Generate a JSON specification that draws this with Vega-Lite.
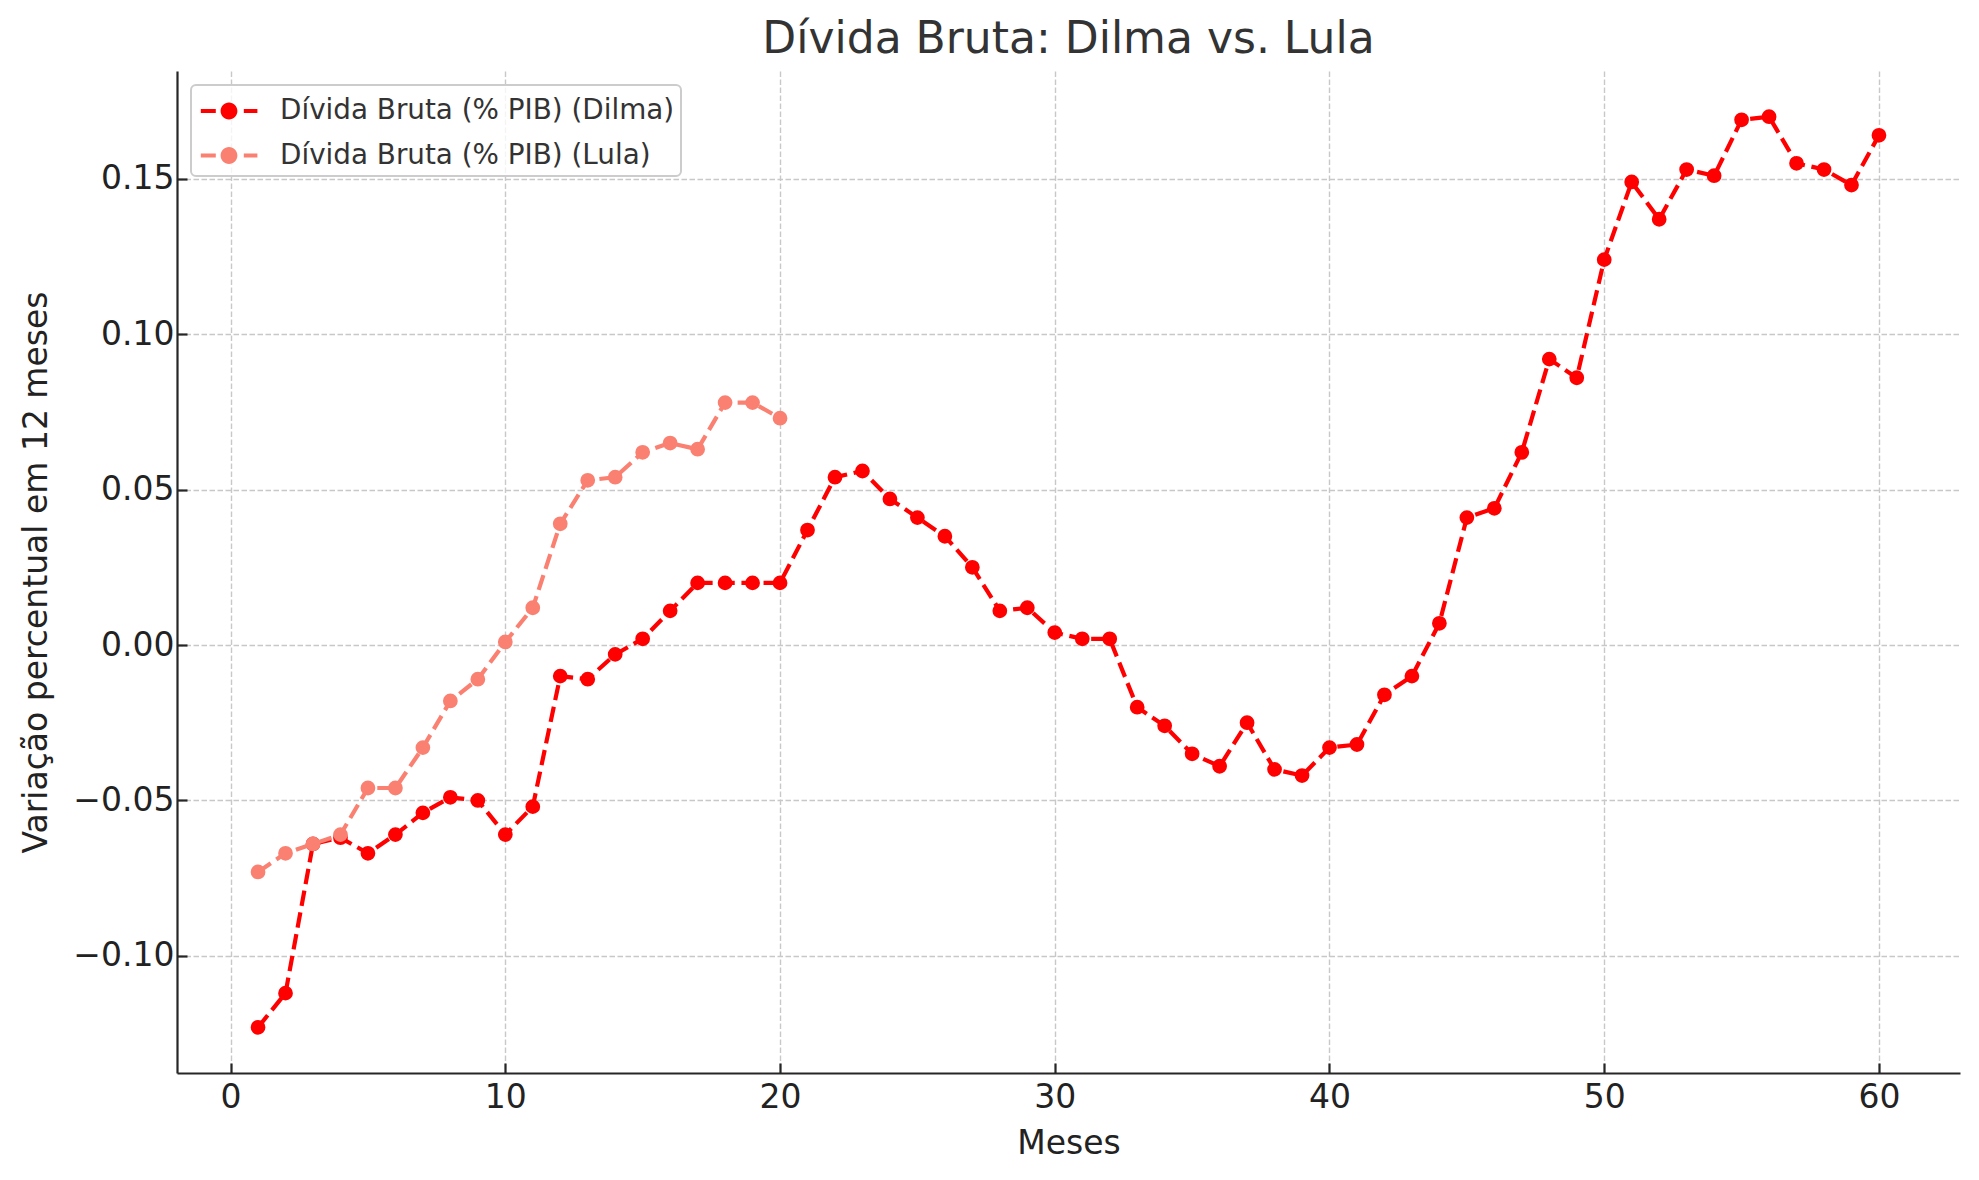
{
  "$schema": "https://vega.github.io/schema/vega-lite/v6.json",
  "width": 1783,
  "height": 1002,
  "autosize": {"type": "none"},
  "padding": {"left": 177, "top": 71, "right": 19, "bottom": 107},
  "background": "white",
  "title": {"text": "Dívida Bruta: Dilma vs. Lula", "fontSize": 44, "font": "DejaVu Sans", "fontWeight": "normal", "color": "#333333", "anchor": "middle", "baseline": "alphabetic", "offset": -26},
  "config": {"view": {"stroke": null}, "font": "DejaVu Sans"},
  "data": {"values": [
    {"mes": 1, "serie": "Dívida Bruta (% PIB) (Dilma)", "v": -0.123},
    {"mes": 2, "serie": "Dívida Bruta (% PIB) (Dilma)", "v": -0.112},
    {"mes": 3, "serie": "Dívida Bruta (% PIB) (Dilma)", "v": -0.064},
    {"mes": 4, "serie": "Dívida Bruta (% PIB) (Dilma)", "v": -0.062},
    {"mes": 5, "serie": "Dívida Bruta (% PIB) (Dilma)", "v": -0.067},
    {"mes": 6, "serie": "Dívida Bruta (% PIB) (Dilma)", "v": -0.061},
    {"mes": 7, "serie": "Dívida Bruta (% PIB) (Dilma)", "v": -0.054},
    {"mes": 8, "serie": "Dívida Bruta (% PIB) (Dilma)", "v": -0.049},
    {"mes": 9, "serie": "Dívida Bruta (% PIB) (Dilma)", "v": -0.050},
    {"mes": 10, "serie": "Dívida Bruta (% PIB) (Dilma)", "v": -0.061},
    {"mes": 11, "serie": "Dívida Bruta (% PIB) (Dilma)", "v": -0.052},
    {"mes": 12, "serie": "Dívida Bruta (% PIB) (Dilma)", "v": -0.010},
    {"mes": 13, "serie": "Dívida Bruta (% PIB) (Dilma)", "v": -0.011},
    {"mes": 14, "serie": "Dívida Bruta (% PIB) (Dilma)", "v": -0.003},
    {"mes": 15, "serie": "Dívida Bruta (% PIB) (Dilma)", "v": 0.002},
    {"mes": 16, "serie": "Dívida Bruta (% PIB) (Dilma)", "v": 0.011},
    {"mes": 17, "serie": "Dívida Bruta (% PIB) (Dilma)", "v": 0.020},
    {"mes": 18, "serie": "Dívida Bruta (% PIB) (Dilma)", "v": 0.020},
    {"mes": 19, "serie": "Dívida Bruta (% PIB) (Dilma)", "v": 0.020},
    {"mes": 20, "serie": "Dívida Bruta (% PIB) (Dilma)", "v": 0.020},
    {"mes": 21, "serie": "Dívida Bruta (% PIB) (Dilma)", "v": 0.037},
    {"mes": 22, "serie": "Dívida Bruta (% PIB) (Dilma)", "v": 0.054},
    {"mes": 23, "serie": "Dívida Bruta (% PIB) (Dilma)", "v": 0.056},
    {"mes": 24, "serie": "Dívida Bruta (% PIB) (Dilma)", "v": 0.047},
    {"mes": 25, "serie": "Dívida Bruta (% PIB) (Dilma)", "v": 0.041},
    {"mes": 26, "serie": "Dívida Bruta (% PIB) (Dilma)", "v": 0.035},
    {"mes": 27, "serie": "Dívida Bruta (% PIB) (Dilma)", "v": 0.025},
    {"mes": 28, "serie": "Dívida Bruta (% PIB) (Dilma)", "v": 0.011},
    {"mes": 29, "serie": "Dívida Bruta (% PIB) (Dilma)", "v": 0.012},
    {"mes": 30, "serie": "Dívida Bruta (% PIB) (Dilma)", "v": 0.004},
    {"mes": 31, "serie": "Dívida Bruta (% PIB) (Dilma)", "v": 0.002},
    {"mes": 32, "serie": "Dívida Bruta (% PIB) (Dilma)", "v": 0.002},
    {"mes": 33, "serie": "Dívida Bruta (% PIB) (Dilma)", "v": -0.020},
    {"mes": 34, "serie": "Dívida Bruta (% PIB) (Dilma)", "v": -0.026},
    {"mes": 35, "serie": "Dívida Bruta (% PIB) (Dilma)", "v": -0.035},
    {"mes": 36, "serie": "Dívida Bruta (% PIB) (Dilma)", "v": -0.039},
    {"mes": 37, "serie": "Dívida Bruta (% PIB) (Dilma)", "v": -0.025},
    {"mes": 38, "serie": "Dívida Bruta (% PIB) (Dilma)", "v": -0.040},
    {"mes": 39, "serie": "Dívida Bruta (% PIB) (Dilma)", "v": -0.042},
    {"mes": 40, "serie": "Dívida Bruta (% PIB) (Dilma)", "v": -0.033},
    {"mes": 41, "serie": "Dívida Bruta (% PIB) (Dilma)", "v": -0.032},
    {"mes": 42, "serie": "Dívida Bruta (% PIB) (Dilma)", "v": -0.016},
    {"mes": 43, "serie": "Dívida Bruta (% PIB) (Dilma)", "v": -0.010},
    {"mes": 44, "serie": "Dívida Bruta (% PIB) (Dilma)", "v": 0.007},
    {"mes": 45, "serie": "Dívida Bruta (% PIB) (Dilma)", "v": 0.041},
    {"mes": 46, "serie": "Dívida Bruta (% PIB) (Dilma)", "v": 0.044},
    {"mes": 47, "serie": "Dívida Bruta (% PIB) (Dilma)", "v": 0.062},
    {"mes": 48, "serie": "Dívida Bruta (% PIB) (Dilma)", "v": 0.092},
    {"mes": 49, "serie": "Dívida Bruta (% PIB) (Dilma)", "v": 0.086},
    {"mes": 50, "serie": "Dívida Bruta (% PIB) (Dilma)", "v": 0.124},
    {"mes": 51, "serie": "Dívida Bruta (% PIB) (Dilma)", "v": 0.149},
    {"mes": 52, "serie": "Dívida Bruta (% PIB) (Dilma)", "v": 0.137},
    {"mes": 53, "serie": "Dívida Bruta (% PIB) (Dilma)", "v": 0.153},
    {"mes": 54, "serie": "Dívida Bruta (% PIB) (Dilma)", "v": 0.151},
    {"mes": 55, "serie": "Dívida Bruta (% PIB) (Dilma)", "v": 0.169},
    {"mes": 56, "serie": "Dívida Bruta (% PIB) (Dilma)", "v": 0.170},
    {"mes": 57, "serie": "Dívida Bruta (% PIB) (Dilma)", "v": 0.155},
    {"mes": 58, "serie": "Dívida Bruta (% PIB) (Dilma)", "v": 0.153},
    {"mes": 59, "serie": "Dívida Bruta (% PIB) (Dilma)", "v": 0.148},
    {"mes": 60, "serie": "Dívida Bruta (% PIB) (Dilma)", "v": 0.164},
    {"mes": 1, "serie": "Dívida Bruta (% PIB) (Lula)", "v": -0.073},
    {"mes": 2, "serie": "Dívida Bruta (% PIB) (Lula)", "v": -0.067},
    {"mes": 3, "serie": "Dívida Bruta (% PIB) (Lula)", "v": -0.064},
    {"mes": 4, "serie": "Dívida Bruta (% PIB) (Lula)", "v": -0.061},
    {"mes": 5, "serie": "Dívida Bruta (% PIB) (Lula)", "v": -0.046},
    {"mes": 6, "serie": "Dívida Bruta (% PIB) (Lula)", "v": -0.046},
    {"mes": 7, "serie": "Dívida Bruta (% PIB) (Lula)", "v": -0.033},
    {"mes": 8, "serie": "Dívida Bruta (% PIB) (Lula)", "v": -0.018},
    {"mes": 9, "serie": "Dívida Bruta (% PIB) (Lula)", "v": -0.011},
    {"mes": 10, "serie": "Dívida Bruta (% PIB) (Lula)", "v": 0.001},
    {"mes": 11, "serie": "Dívida Bruta (% PIB) (Lula)", "v": 0.012},
    {"mes": 12, "serie": "Dívida Bruta (% PIB) (Lula)", "v": 0.039},
    {"mes": 13, "serie": "Dívida Bruta (% PIB) (Lula)", "v": 0.053},
    {"mes": 14, "serie": "Dívida Bruta (% PIB) (Lula)", "v": 0.054},
    {"mes": 15, "serie": "Dívida Bruta (% PIB) (Lula)", "v": 0.062},
    {"mes": 16, "serie": "Dívida Bruta (% PIB) (Lula)", "v": 0.065},
    {"mes": 17, "serie": "Dívida Bruta (% PIB) (Lula)", "v": 0.063},
    {"mes": 18, "serie": "Dívida Bruta (% PIB) (Lula)", "v": 0.078},
    {"mes": 19, "serie": "Dívida Bruta (% PIB) (Lula)", "v": 0.078},
    {"mes": 20, "serie": "Dívida Bruta (% PIB) (Lula)", "v": 0.073}
  ]},
  "encoding": {
    "x": {
      "field": "mes", "type": "quantitative",
      "scale": {"domain": [-1.95, 62.95], "nice": false, "zero": false},
      "axis": {
        "values": [0, 10, 20, 30, 40, 50, 60],
        "title": "Meses", "titleFontSize": 33, "titleFontWeight": "normal", "titleColor": "#222222", "titleFont": "DejaVu Sans", "titlePadding": 13.5,
        "labelFontSize": 33, "labelColor": "#222222", "labelFont": "DejaVu Sans", "labelPadding": 18, "labelFlush": false,
        "tickSize": -10, "tickWidth": 2.2, "tickColor": "#262626",
        "domainColor": "#262626", "domainWidth": 2.2,
        "grid": true, "gridColor": "#c8c8c8", "gridDash": [5.5, 2.5], "gridWidth": 1.4
      }
    },
    "y": {
      "field": "v", "type": "quantitative",
      "scale": {"domain": [-0.1377, 0.1847], "nice": false, "zero": false},
      "axis": {
        "values": [-0.1, -0.05, 0, 0.05, 0.1, 0.15],
        "labelExpr": "replace(format(datum.value, '.2f'), '-', '−')",
        "title": "Variação percentual em 12 meses", "titleFontSize": 33, "titleFontWeight": "normal", "titleColor": "#222222", "titleFont": "DejaVu Sans", "titlePadding": 19,
        "labelFontSize": 33, "labelColor": "#222222", "labelFont": "DejaVu Sans", "labelPadding": 13, "labelFlush": false,
        "tickSize": -10, "tickWidth": 2.2, "tickColor": "#262626",
        "domainColor": "#262626", "domainWidth": 2.2,
        "grid": true, "gridColor": "#c8c8c8", "gridDash": [5.5, 2.5], "gridWidth": 1.4
      }
    },
    "color": {
      "field": "serie", "type": "nominal",
      "scale": {"domain": ["Dívida Bruta (% PIB) (Dilma)", "Dívida Bruta (% PIB) (Lula)"], "range": ["#ff0000", "#fa8072"]},
      "legend": {
        "title": null, "orient": "top-left", "offset": 14, "padding": 6,
        "labelFontSize": 27.8, "labelColor": "#333333", "labelFont": "DejaVu Sans", "labelLimit": 700,
        "symbolType": "M-1.41,-0.1L-0.66,-0.1L-0.66,0.1L-1.41,0.1Z M-0.42,0A0.42,0.42,0,1,0,0.42,0A0.42,0.42,0,1,0,-0.42,0Z M0.74,-0.1L1.42,-0.1L1.42,0.1L0.74,0.1Z",
        "symbolSize": 1600, "symbolStrokeWidth": 0, "symbolOffset": 12, "labelOffset": 31, "rowPadding": 10.5,
        "strokeColor": "#cccccc", "fillColor": "rgba(255,255,255,0.8)", "cornerRadius": 5,
        "encode": {
          "legend": {"update": {"strokeWidth": {"value": 2}}},
          "symbols": {"update": {"fill": {"scale": "color", "field": "value"}, "stroke": {"value": "transparent"}, "opacity": {"value": 1}}}
        }
      }
    }
  },
  "layer": [
    {"transform": [{"filter": {"field": "serie", "equal": "Dívida Bruta (% PIB) (Dilma)"}}], "mark": {"type": "line", "strokeWidth": 4.2, "strokeDash": [15.4, 6.7]}},
    {"transform": [{"filter": {"field": "serie", "equal": "Dívida Bruta (% PIB) (Dilma)"}}], "mark": {"type": "point", "filled": true, "size": 218, "opacity": 1}},
    {"transform": [{"filter": {"field": "serie", "equal": "Dívida Bruta (% PIB) (Lula)"}}], "mark": {"type": "line", "strokeWidth": 4.2, "strokeDash": [15.4, 6.7]}},
    {"transform": [{"filter": {"field": "serie", "equal": "Dívida Bruta (% PIB) (Lula)"}}], "mark": {"type": "point", "filled": true, "size": 218, "opacity": 1}}
  ]
}
